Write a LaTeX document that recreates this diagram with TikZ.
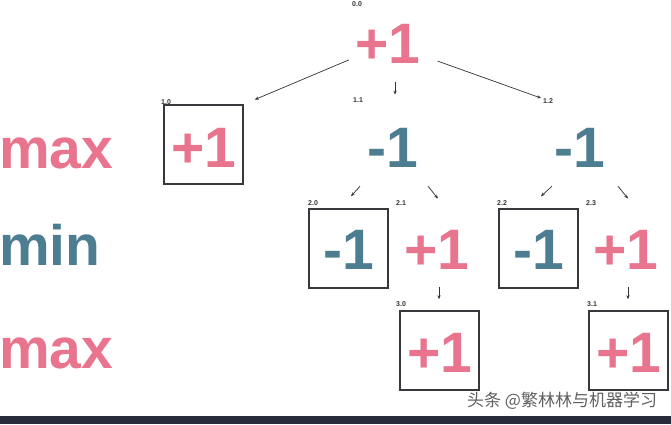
\documentclass[tikz,border=0pt]{standalone}
\usepackage{fontspec}
\setmainfont{Liberation Sans}
\newfontfamily\cjk{Noto Sans CJK SC}
\usetikzlibrary{arrows.meta}
\definecolor{pinkv}{RGB}{232,116,142}
\definecolor{tealv}{RGB}{76,125,144}
\definecolor{boxline}{RGB}{55,55,60}
\definecolor{arrowc}{RGB}{50,50,55}
\definecolor{barc}{RGB}{40,44,58}
\begin{document}
\begin{tikzpicture}[x=1pt,y=-1pt,
  val/.style={inner sep=0pt,anchor=base,font=\fontsize{57}{57}\selectfont\bfseries},
  posval/.style={val,text=pinkv},
  negval/.style={val,text=tealv},
  rowlab/.style={inner sep=0pt,anchor=base west,font=\fontsize{57}{57}\selectfont\bfseries},
  leaf/.style={draw=boxline,line width=1.5pt,minimum width=79pt,minimum height=79pt,inner sep=0pt},
  idx/.style={inner sep=1pt,anchor=base west,font=\fontsize{7}{7}\selectfont\bfseries,text=black!80},
  arr/.style={draw=arrowc,line width=0.7pt,-{Stealth[length=4pt,width=3.2pt]}}
]
\useasboundingbox (0,0) rectangle (671,424);
\fill[white] (0,0) rectangle (671,424);
\fill[barc] (0,416) rectangle (671,424);

% row labels
\node[rowlab,text=pinkv] (r1) at (-1,168) {max};
\node[rowlab,text=tealv] (r2) at (-1,265) {min};
\node[rowlab,text=pinkv] (r3) at (-1,368) {max};

% root
\node[posval] (root) at (388,63) {+1};
\node[idx] (l00) at (351,6) {0.0};

% level 1
\node[leaf] (b10) at (203.5,144.5) {};
\node[posval] (v10) at (203.5,167) {+1};
\node[idx] (l10) at (160,104) {1.0};
\node[negval] (n11) at (393,167) {-1};
\node[idx] (l11) at (352,102) {1.1};
\node[negval] (n12) at (580,167) {-1};
\node[idx] (l12) at (542,103) {1.2};

% level 2
\node[leaf] (b20) at (348.5,248.5) {};
\node[negval] (v20) at (348.5,269) {-1};
\node[idx] (l20) at (307,205) {2.0};
\node[posval] (n21) at (437,269) {+1};
\node[idx] (l21) at (395,205) {2.1};
\node[leaf] (b22) at (538.5,248.5) {};
\node[negval] (v22) at (538.5,269) {-1};
\node[idx] (l22) at (496,205) {2.2};
\node[posval] (n23) at (626,269) {+1};
\node[idx] (l23) at (585,205) {2.3};

% level 3
\node[leaf] (b30) at (439.5,350.5) {};
\node[posval] (v30) at (439.5,372) {+1};
\node[idx] (l30) at (395,306) {3.0};
\node[leaf] (b31) at (628.5,350.5) {};
\node[posval] (v31) at (628.5,372) {+1};
\node[idx] (l31) at (586,306) {3.1};

% connectors
\draw[arr,shorten <=7pt,shorten >=12pt] (root) -- (b10.north east);
\draw[arr,shorten <=19pt,shorten >=33pt] ([xshift=7pt]root.south) -- ([xshift=2pt]n11.north);
\draw[arr,shorten <=18pt,shorten >=1pt] (root) -- (l12);

\draw[arr] ([shift={(-33,19)}]n11.south) -- ([shift={(2.5,-12)}]b20.north);
\draw[arr] ([shift={(35,19)}]n11.south) -- ([shift={(1,-31)}]n21.north);
\draw[arr] ([shift={(-28,19)}]n12.south) -- ([shift={(2.5,-12)}]b22.north);
\draw[arr] ([shift={(38,19)}]n12.south) -- ([shift={(2,-31)}]n23.north);

\draw[arr] ([shift={(2,18)}]n21.south) -- ([shift={(-0.5,-11)}]b30.north);
\draw[arr] ([shift={(2,18)}]n23.south) -- ([shift={(-0.5,-11)}]b31.north);

% watermark
\node[inner sep=0pt,anchor=base west,font=\cjk\fontsize{17}{17}\selectfont,text=black!62] (wm) at (467,406) {头条 @繁林林与机器学习};
\end{tikzpicture}
\end{document}
